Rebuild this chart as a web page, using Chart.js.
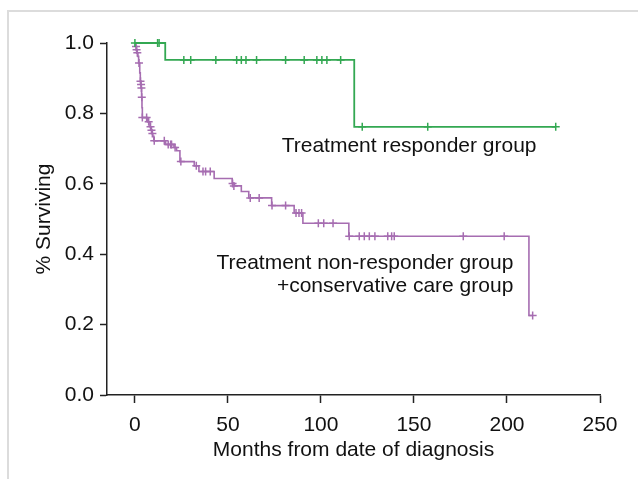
<!DOCTYPE html>
<html><head><meta charset="utf-8">
<script src="https://cdn.jsdelivr.net/npm/chart.js@4"></script>
<style>html,body{margin:0;padding:0;background:#fff;}#wrap{width:638px;height:479px;position:relative;}</style>
</head><body><div id="wrap"><canvas id="c" width="638" height="479"></canvas></div>
<script>
// Treatment responder group (Kaplan-Meier steps)
const responderTimes = [0, 16.3, 117.9, 226.2];
const responderSurv  = [1.0, 0.952, 0.762, 0.762];
const responderCensorTimes = [0, 12.2, 13.0, 26.3, 30.0, 43.5, 54.7, 57.2, 59.7, 65.4, 81.0, 91.0, 97.8, 100.5, 103.2, 110.6, 122.2, 157.4, 226.2];
const responderCensorSurv  = [1.0, 1.0, 1.0, 0.952, 0.952, 0.952, 0.952, 0.952, 0.952, 0.952, 0.952, 0.952, 0.952, 0.952, 0.952, 0.952, 0.762, 0.762, 0.762];

// Treatment non-responder + conservative care group
const nonResponderTimes = [0, 0.4, 0.8, 1.1, 1.6, 2.0, 2.6, 2.9, 3.2, 3.4, 3.6, 3.8, 4.0, 6.8, 8.1, 8.6, 9.2, 9.6, 10.2, 16.5, 21.0, 22.4, 24.2, 31.9, 34.4, 42.6, 52.3, 53.5, 57.2, 61.2, 73.5, 85.6, 90.3, 115.0, 211.8, 213.8];
const nonResponderSurv  = [1.0, 0.99, 0.981, 0.972, 0.962, 0.943, 0.915, 0.891, 0.882, 0.872, 0.846, 0.816, 0.788, 0.776, 0.762, 0.752, 0.743, 0.735, 0.722, 0.712, 0.703, 0.694, 0.663, 0.651, 0.635, 0.615, 0.601, 0.594, 0.578, 0.560, 0.538, 0.517, 0.488, 0.451, 0.226, 0.226];
const nonResponderCensorTimes = [0.6, 0.9, 1.3, 2.2, 3.0, 3.3, 3.5, 3.7, 4.0, 6.3, 7.4, 8.4, 8.9, 9.4, 10.4, 15.8, 17.9, 19.2, 19.7, 21.6, 24.7, 33.0, 36.6, 38.0, 40.5, 52.5, 53.2, 62.0, 66.8, 73.7, 81.0, 86.6, 88.2, 89.6, 98.6, 101.5, 106.5, 115.2, 120.6, 123.3, 126.0, 129.0, 135.9, 138.0, 139.4, 176.5, 198.5, 213.8];
const nonResponderCensorSurv  = [0.99, 0.981, 0.972, 0.943, 0.891, 0.882, 0.872, 0.846, 0.788, 0.788, 0.776, 0.762, 0.752, 0.743, 0.722, 0.722, 0.712, 0.712, 0.712, 0.703, 0.663, 0.651, 0.635, 0.635, 0.635, 0.601, 0.594, 0.560, 0.560, 0.538, 0.538, 0.517, 0.517, 0.517, 0.488, 0.488, 0.488, 0.451, 0.451, 0.451, 0.451, 0.451, 0.451, 0.451, 0.451, 0.451, 0.451, 0.226];

const xTickValues = [0, 50, 100, 150, 200, 250];
const yTickValues = [0, 0.2, 0.4, 0.6, 0.8, 1.0];
const xTitle = 'Months from date of diagnosis';
const yTitle = '% Surviving';
const labelResponder = ['Treatment responder group'];
const labelNonResponder = ['Treatment non-responder group', '+conservative care group'];

const GREEN = '#33a852';
const PURPLE = '#a66db1';
const FONT = '"Liberation Sans", Arial, sans-serif';
const TXT = '#111';

const pts = (xs, ys) => xs.map((x, i) => ({x, y: ys[i]}));

const framePlugin = {
  id: 'frame',
  beforeDraw(chart) {
    const ctx = chart.ctx;
    ctx.save();
    ctx.fillStyle = '#dcdcdc';
    ctx.fillRect(7, 10, 631, 2);
    ctx.fillRect(7, 10, 2, 469);
    ctx.restore();
  }
};

const labelPlugin = {
  id: 'labels',
  afterDatasetsDraw(chart) {
    const ctx = chart.ctx, xs = chart.scales.x, ys = chart.scales.y;
    ctx.save();
    ctx.fillStyle = TXT;
    ctx.font = '21px ' + FONT;
    ctx.textBaseline = 'middle';
    ctx.textAlign = 'left';
    ctx.fillText(labelResponder[0], xs.getPixelForValue(78.9), ys.getPixelForValue(0.707));
    ctx.textAlign = 'right';
    ctx.fillText(labelNonResponder[0], xs.getPixelForValue(203.4), ys.getPixelForValue(0.374));
    ctx.fillText(labelNonResponder[1], xs.getPixelForValue(203.4), ys.getPixelForValue(0.310));
    ctx.restore();
  }
};

new Chart(document.getElementById('c'), {
  type: 'scatter',
  data: {
    datasets: [
      {data: pts(responderTimes, responderSurv), showLine: true, stepped: 'before', borderColor: GREEN, borderWidth: 1.8, pointRadius: 0, clip: false},
      {data: pts(responderCensorTimes, responderCensorSurv), showLine: false, pointStyle: 'cross', pointRadius: 4, borderColor: GREEN, backgroundColor: GREEN, pointBorderWidth: 1.5, clip: false},
      {data: pts(nonResponderTimes, nonResponderSurv), showLine: true, stepped: 'before', borderColor: PURPLE, borderWidth: 1.6, pointRadius: 0, clip: false},
      {data: pts(nonResponderCensorTimes, nonResponderCensorSurv), showLine: false, pointStyle: 'cross', pointRadius: 4, borderColor: PURPLE, backgroundColor: PURPLE, pointBorderWidth: 1.5, clip: false}
    ]
  },
  options: {
    responsive: false,
    animation: false,
    devicePixelRatio: 1,
    layout: {padding: {top: 43, right: 38, left: 0, bottom: 0}},
    plugins: {legend: {display: false}, tooltip: {enabled: false}},
    scales: {
      x: {
        type: 'linear', min: -15, max: 250,
        afterBuildTicks: s => { s.ticks = xTickValues.map(v => ({value: v})); },
        afterFit: s => { s.height = 84; },
        ticks: {font: {family: FONT, size: 21}, color: TXT, padding: 10, maxRotation: 0, autoSkip: false},
        grid: {drawOnChartArea: false, drawTicks: true, tickLength: 8, tickColor: '#222', tickWidth: 1.5},
        border: {display: true, color: '#222', width: 1.5},
        title: {display: true, text: xTitle, font: {family: FONT, size: 21}, color: TXT, padding: {top: 0, bottom: 16}}
      },
      y: {
        type: 'linear', min: 0, max: 1,
        afterBuildTicks: s => { s.ticks = yTickValues.map(v => ({value: v})); },
        afterFit: s => { s.width = 107; },
        ticks: {font: {family: FONT, size: 21}, color: TXT, padding: 6, callback: v => Number(v).toFixed(1)},
        grid: {drawOnChartArea: false, drawTicks: true, tickLength: 7, tickColor: '#222', tickWidth: 1.5},
        border: {display: true, color: '#222', width: 1.5},
        title: {display: true, text: yTitle, font: {family: FONT, size: 21}, color: TXT, padding: {top: 32, bottom: 0}}
      }
    }
  },
  plugins: [framePlugin, labelPlugin]
});
</script>
</body></html>
